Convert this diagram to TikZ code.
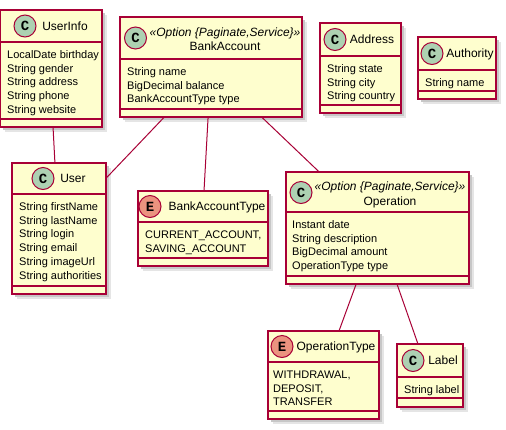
\documentclass[tikz,border=0pt]{standalone}
\usepackage{fontspec}
\setmainfont{Liberation Sans}
\newfontfamily\spotfont{Liberation Mono}
\usetikzlibrary{calc}
\definecolor{umlred}{HTML}{A80036}
\definecolor{umlfill}{HTML}{FEFECE}
\definecolor{umlC}{HTML}{ADD1B2}
\definecolor{umlE}{HTML}{EB937F}

\begin{document}
\begin{tikzpicture}[x=1pt,y=-1pt,
    box/.style={draw=umlred,fill=umlfill,line width=1.5pt,inner sep=0pt},
    divider/.style={draw=umlred,line width=1.5pt},
    link/.style={draw=umlred,line width=1pt},
    spot/.style={circle,draw=umlred,line width=1pt,minimum size=22pt,inner sep=0pt,
        font=\spotfont\bfseries\fontsize{14}{14}\selectfont},
    title/.style={font=\fontsize{12}{12}\selectfont,inner sep=0pt,anchor=base},
    stereo/.style={title,font=\itshape\fontsize{12}{12}\selectfont},
    field/.style={font=\fontsize{11}{11}\selectfont,inner sep=0pt,anchor=base west}]
    \path[use as bounding box,fill=white] (0,0) rectangle (506,429);

    % --- Boxes: name/left/top/right/bottom/divider 1/divider 2 ---
    \foreach \nm/\xa/\ya/\xb/\yb/\sa/\sb in {
        userinfo/0/10/102/127/42/119,
        bankaccount/120/17/302/117/59/109,
        address/320/23/401/113/56/105,
        authority/418/37/496/99/70/91,
        user/12/163/106/294/194/286,
        bankaccounttype/138/191/268/266/222/258,
        operation/286/172/469/284/212/276,
        operationtype/268/331/379/419/362/411,
        label/397/344/463/407/377/398}{
        \fill[black!10] (\xa+5,\ya+5) rectangle (\xb+5,\yb+5); % shadow
        \fill[black!22] (\xa+3,\ya+3) rectangle (\xb+3,\yb+3);
        \node[box,minimum width={(\xb-\xa)*1pt},minimum height={(\yb-\ya)*1pt}]
            (\nm) at ({(\xa+\xb)/2},{(\ya+\yb)/2}) {};
        \draw[divider] (\xa,\sa) -- (\xb,\sa) (\xa,\sb) -- (\xb,\sb);
    }

    % --- Headers ---
    \foreach \nm/\cx/\cy/\ch/\col/\tx/\ttl in {
        userinfo/25/26/C/umlC/65/UserInfo,
        address/335/39.5/C/umlC/372/Address,
        authority/432/53.5/C/umlC/470/Authority,
        user/43/178.5/C/umlC/73/User,
        bankaccounttype/150/206.5/E/umlE/217/BankAccountType,
        operationtype/282/346.5/E/umlE/336/OperationType,
        label/413/360.5/C/umlC/443/Label}{
        \node[spot,fill=\col] (\nm-spot) at (\cx,\cy) {\ch};
        \node[title] (\nm-title) at (\tx,\cy+4.3) {\ttl};
    }
    \foreach \nm/\cx/\cy/\tx/\ttl in {bankaccount/135.5/38/225/BankAccount,operation/301/192.5/390/Operation}{
        \node[spot,fill=umlC] (\nm-spot) at (\cx,\cy) {C};
        \node[stereo] (\nm-stereo) at (\tx,\cy-2) {«Option \{Paginate,Service\}»};
        \node[title] (\nm-title) at (\tx,\cy+12.8) {\ttl};
    }

    % --- Fields ---
    \foreach \i/\txt in {0/LocalDate birthday,1/String gender,2/String address,3/String phone,4/String website}
        \node[field] (userinfo-f\i) at (7,42+16.5+\i*13.7) {\txt};
    \foreach \i/\txt in {0/String name,1/BigDecimal balance,2/BankAccountType type}
        \node[field] (bankaccount-f\i) at (127,59+16.5+\i*13.7) {\txt};
    \foreach \i/\txt in {0/String state,1/String city,2/String country}
        \node[field] (address-f\i) at (327,56+16.5+\i*13.7) {\txt};
    \node[field] (authority-f0) at (425,70+16.5) {String name};
    \foreach \i/\txt in {0/String firstName,1/String lastName,2/String login,3/String email,4/String imageUrl,5/String authorities}
        \node[field] (user-f\i) at (19,194+16.5+\i*13.7) {\txt};
    \foreach \i/\txt in {0/{CURRENT\_ACCOUNT,},1/SAVING\_ACCOUNT}
        \node[field] (bankaccounttype-f\i) at (145,222+16.5+\i*13.7) {\txt};
    \foreach \i/\txt in {0/Instant date,1/String description,2/BigDecimal amount,3/OperationType type}
        \node[field] (operation-f\i) at (292,212+16.5+\i*13.7) {\txt};
    \foreach \i/\txt in {0/{WITHDRAWAL,},1/{DEPOSIT,},2/TRANSFER}
        \node[field] (operationtype-f\i) at (273,362+16.5+\i*13.7) {\txt};
    \node[field] (label-f0) at (404,377+16.5) {String label};

    % --- Links ---
    \draw[link] ($(userinfo.south west)!0.52!(userinfo.south east)$) -- ($(user.north west)!0.457!(user.north east)$);
    \draw[link] ($(bankaccount.south west)!0.242!(bankaccount.south east)$) -- ($(user.north east)!0.115!(user.south east)$);
    \draw[link] ($(bankaccount.south west)!0.484!(bankaccount.south east)$) -- ($(bankaccounttype.north west)!0.508!(bankaccounttype.north east)$);
    \draw[link] ($(bankaccount.south west)!0.78!(bankaccount.south east)$) -- ($(operation.north west)!0.18!(operation.north east)$);
    \draw[link] ($(operation.south west)!0.383!(operation.south east)$) -- ($(operationtype.north west)!0.64!(operationtype.north east)$);
    \draw[link] ($(operation.south west)!0.607!(operation.south east)$) -- ($(label.north west)!0.318!(label.north east)$);
\end{tikzpicture}
\end{document}
